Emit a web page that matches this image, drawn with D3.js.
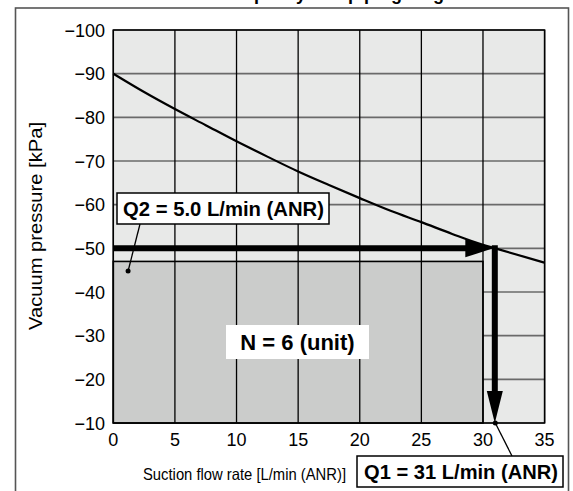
<!DOCTYPE html>
<html>
<head>
    <title></title>
    <script src="https://d3js.org/d3.v7.min.js"></script>
    <style>
        body { margin: 0; background: #fff; }
        text { font-family: "Liberation Sans", Arial, sans-serif; }
    </style>
</head>
<body>

    <svg id="chart" width="573" height="491"></svg>

    <script>

    // suction flow [L/min (ANR)] vs vacuum pressure [kPa]
    var flowRate = [0, 2.5, 5, 7.5, 10, 12.5, 15, 17.5, 20, 22.5, 25, 27.5, 30, 31, 35];
    var vacuum   = [-90, -85.8, -81.9, -78.2, -74.5, -71.0, -67.6, -64.5, -61.5, -58.6, -56.0, -53.3, -50.8, -50, -46.7];

    var xTicks = [0, 5, 10, 15, 20, 25, 30, 35];
    var yTicks = [-100, -90, -80, -70, -60, -50, -40, -30, -20, -10];

    // operating point / ejector block
    var q1 = 31, pOp = -50;
    var boxFlow = [0, 30], boxVac = [-10, -47];
    var q2Dot = [1.2, -44.8];

    var xSc = d3.scaleLinear().domain([0, 35]).range([113.3, 544.6]);
    var ySc = d3.scaleLinear().domain([-100, -10]).range([30, 423]);

    let svg = d3.select("#chart");
    var minus = s => String(s).replace("-", "\u2212");

    // outer frame and (clipped) title
    svg.append("rect").attr("x", 15.5).attr("y", 8).attr("width", 553).attr("height", 500)
        .attr("fill", "none").attr("stroke", "#555").attr("stroke-width", 1.6);
    svg.append("text").attr("x", 122).attr("y", 0).attr("font-size", 18).attr("font-weight", "bold")
        .text("Suction flow capacity and piping diagram");

    // plot background
    svg.append("rect").attr("x", xSc(0)).attr("y", ySc(-100))
        .attr("width", xSc(35) - xSc(0)).attr("height", ySc(-10) - ySc(-100))
        .attr("fill", "#e8e9e8");

    // horizontal grid (grey)
    svg.append("g").selectAll("line").data(yTicks).enter().append("line")
        .attr("x1", xSc(0)).attr("x2", xSc(35))
        .attr("y1", d => ySc(d)).attr("y2", d => ySc(d))
        .attr("stroke", "#6a6a6a").attr("stroke-width", 1.6);

    // ejector block
    svg.append("rect").attr("x", xSc(boxFlow[0])).attr("y", ySc(boxVac[1]))
        .attr("width", xSc(boxFlow[1]) - xSc(boxFlow[0]))
        .attr("height", ySc(boxVac[0]) - ySc(boxVac[1]))
        .attr("fill", "#cbcccb").attr("stroke", "#000").attr("stroke-width", 1.6);

    // vertical grid (black)
    svg.append("g").selectAll("line").data(xTicks).enter().append("line")
        .attr("x1", d => xSc(d)).attr("x2", d => xSc(d))
        .attr("y1", ySc(-100)).attr("y2", ySc(-10))
        .attr("stroke", "#000").attr("stroke-width", 1.3);

    // plot border
    svg.append("rect").attr("x", xSc(0)).attr("y", ySc(-100))
        .attr("width", xSc(35) - xSc(0)).attr("height", ySc(-10) - ySc(-100))
        .attr("fill", "none").attr("stroke", "#000").attr("stroke-width", 1.5);

    // curve
    var lnMkr = d3.line().curve(d3.curveMonotoneX);
    var pts = flowRate.map((f, i) => [xSc(f), ySc(vacuum[i])]);
    svg.append("path").attr("d", lnMkr(pts))
        .attr("fill", "none").attr("stroke", "#000").attr("stroke-width", 2.2);

    // horizontal arrow at operating pressure
    var yA = ySc(pOp), xTip = xSc(q1) - 2, headLen = 28;
    svg.append("line").attr("x1", xSc(0)).attr("x2", xTip - headLen + 2)
        .attr("y1", yA).attr("y2", yA).attr("stroke", "#000").attr("stroke-width", 6);
    svg.append("path").attr("fill", "#000")
        .attr("d", d3.line()([[xTip - headLen, yA - 9], [xTip, yA], [xTip - headLen, yA + 9]]));

    // vertical arrow down to Q1
    var xV = xSc(q1) - 0.5, yTip = ySc(-10);
    svg.append("line").attr("x1", xV).attr("x2", xV)
        .attr("y1", yA - 3).attr("y2", yTip - 30).attr("stroke", "#000").attr("stroke-width", 6);
    svg.append("path").attr("fill", "#000")
        .attr("d", d3.line()([[xV - 8, yTip - 32], [xV, yTip], [xV + 8, yTip - 32]]));

    // tick labels
    svg.append("g").selectAll("text").data(xTicks).enter().append("text")
        .attr("x", d => xSc(d)).attr("y", 446).attr("text-anchor", "middle")
        .attr("font-size", 18).text(d => d);
    svg.append("g").selectAll("text").data(yTicks).enter().append("text")
        .attr("x", 105).attr("y", d => ySc(d) + 6.5).attr("text-anchor", "end")
        .attr("font-size", 18).text(d => minus(d));

    // axis titles
    svg.append("text").attr("transform", "translate(42,226) rotate(-90)")
        .attr("text-anchor", "middle").attr("font-size", 18)
        .attr("textLength", 208).attr("lengthAdjust", "spacingAndGlyphs")
        .text("Vacuum pressure [kPa]");
    svg.append("text").attr("x", 143).attr("y", 480).attr("font-size", 16.5)
        .attr("textLength", 203).attr("lengthAdjust", "spacingAndGlyphs")
        .text("Suction flow rate [L/min (ANR)]");

    // N label
    svg.append("rect").attr("x", 226).attr("y", 325).attr("width", 143).attr("height", 34)
        .attr("fill", "#fff");
    svg.append("text").attr("x", 297.5).attr("y", 350).attr("text-anchor", "middle")
        .attr("font-size", 22).attr("font-weight", "bold").text("N = 6 (unit)");

    // Q2 callout
    svg.append("line").attr("x1", 140).attr("y1", 224).attr("x2", xSc(q2Dot[0])).attr("y2", ySc(q2Dot[1]))
        .attr("stroke", "#000").attr("stroke-width", 1.3);
    svg.append("circle").attr("cx", xSc(q2Dot[0])).attr("cy", ySc(q2Dot[1])).attr("r", 2.5);
    svg.append("rect").attr("x", 117).attr("y", 193).attr("width", 212).attr("height", 31)
        .attr("fill", "#fff").attr("stroke", "#000").attr("stroke-width", 1.5);
    svg.append("text").attr("x", 123).attr("y", 216).attr("font-size", 21).attr("font-weight", "bold")
        .attr("textLength", 201).attr("lengthAdjust", "spacingAndGlyphs")
        .text("Q2 = 5.0 L/min (ANR)");

    // Q1 callout
    svg.append("line").attr("x1", xSc(q1)).attr("y1", ySc(-10)).attr("x2", 512).attr("y2", 456)
        .attr("stroke", "#000").attr("stroke-width", 1.3);
    svg.append("circle").attr("cx", xSc(q1)).attr("cy", ySc(-10)).attr("r", 2.5);
    svg.append("rect").attr("x", 357).attr("y", 456).attr("width", 206).attr("height", 31)
        .attr("fill", "#fff").attr("stroke", "#000").attr("stroke-width", 1.5);
    svg.append("text").attr("x", 364).attr("y", 479).attr("font-size", 21).attr("font-weight", "bold")
        .attr("textLength", 194).attr("lengthAdjust", "spacingAndGlyphs")
        .text("Q1 = 31 L/min (ANR)");

    </script>

</body></html>
